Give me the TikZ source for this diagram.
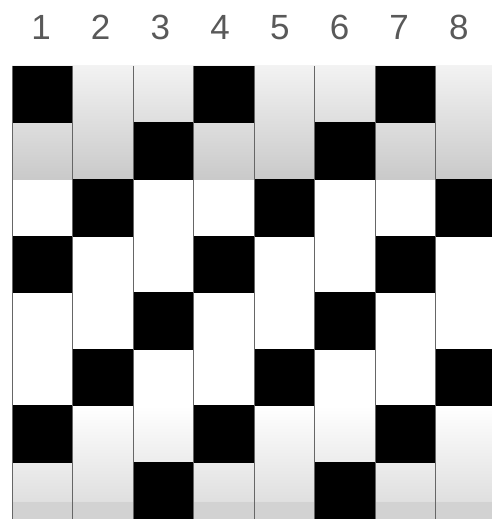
\documentclass[tikz,border=0pt]{standalone}
\usepackage{fontspec}
\setmainfont{Liberation Sans}
\usetikzlibrary{positioning}
\definecolor{numgray}{HTML}{595959}

\begin{document}
\begin{tikzpicture}[x=1pt,y=-1pt,
  cell/.style={line width=0.4pt,minimum width=60.5pt,minimum height=56.6pt,inner sep=0pt,outer sep=0pt},
  blk/.style={cell,fill=black,draw=black},
  sep/.style={black!60,line width=0.6pt},
  num/.style={text=numgray,font=\fontsize{35}{40}\selectfont}]
\useasboundingbox (0,0) rectangle (491,519);
% shaded bands behind the cells
\shade[top color=gray!10,bottom color=gray!42] (12,66) rectangle (496,179.2);
\shade[top color=white,bottom color=gray!25] (12,405.6) rectangle (496,502);
\fill[gray!35] (12,502) rectangle (496,519);
% columns of cells, black every third one
\foreach \c in {1,...,8}{
  \node[num] (n\c) at (41+59.7*\c-59.7,27.5) {\c};
  \foreach \r in {0,...,7}{
    \pgfmathtruncatemacro\k{mod(\r+\c-1,3)}
    \ifnum\k=0
      \node[blk] (c\c-\r) at (60.5*\c-18.25,94.3+56.6*\r) {};
    \else
      \node[cell] (c\c-\r) at (60.5*\c-18.25,94.3+56.6*\r) {};
    \fi
  }
  \draw[sep] (c\c-0.north west) -- (c\c-7.south west);
}
\draw[sep] (c8-0.north east) -- (c8-7.south east);
\end{tikzpicture}
\end{document}
